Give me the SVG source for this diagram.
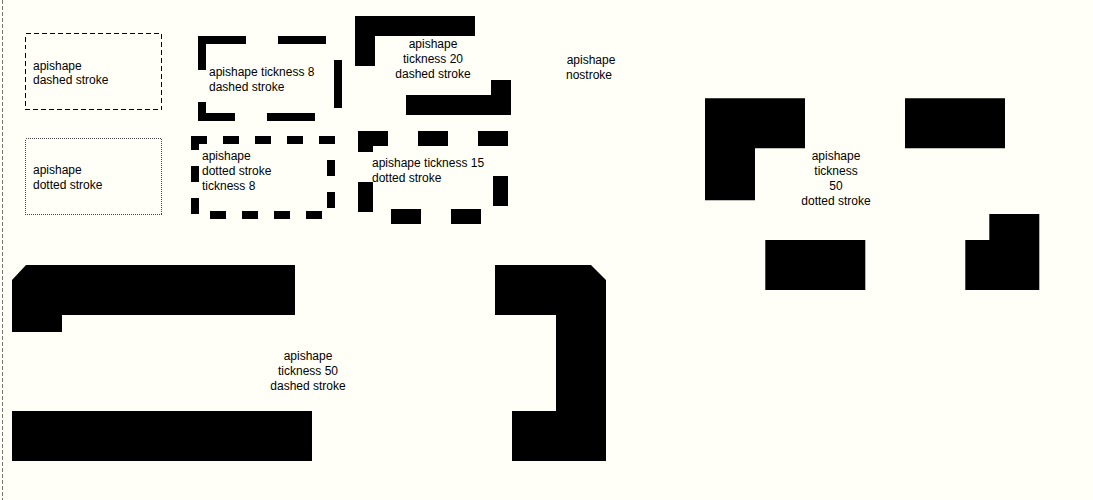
<svg xmlns="http://www.w3.org/2000/svg" width="1093" height="500" viewBox="0 0 1093 500">
<style>
  .t { font-family: "Liberation Sans", Arial, sans-serif; font-size: 12px; fill: #000; }
  .c { text-anchor: middle; }
  .thick { fill: none; stroke: #000; stroke-linecap: square; stroke-linejoin: miter; }
  .solid { fill: #000; stroke: none; }
</style>
<rect x="0" y="0" width="1093" height="500" fill="#fffff8"/>
<line x1="2.5" y1="0" x2="2.5" y2="500" stroke="#777" stroke-width="1" stroke-dasharray="4 2" shape-rendering="crispEdges"/>

<g id="dashed-stroke">
  <rect x="25.5" y="33.5" width="136" height="76" fill="none" stroke="#000" stroke-width="1" stroke-dasharray="5 3" shape-rendering="crispEdges"/>
  <text class="t" x="33" y="70">apishape</text>
  <text class="t" x="33" y="84">dashed stroke</text>
</g>

<g id="dotted-stroke">
  <rect x="25.5" y="138.5" width="136" height="76" fill="none" stroke="#444" stroke-width="1" stroke-dasharray="1 1" shape-rendering="crispEdges"/>
  <text class="t" x="33" y="174">apishape</text>
  <text class="t" x="33" y="189">dotted stroke</text>
</g>

<g id="dashed-thickness-8">
  <rect class="thick" x="202" y="40" width="136" height="77" stroke-width="8" stroke-dasharray="40 40"/>
  <text class="t" x="209" y="76">apishape tickness 8</text>
  <text class="t" x="209" y="91">dashed stroke</text>
</g>

<g id="dashed-thickness-20">
  <rect class="thick" x="365" y="26" width="136" height="79" stroke-width="20" stroke-dasharray="100 100"/>
  <text class="t c" x="433" y="48">apishape</text>
  <text class="t c" x="433" y="63">tickness 20</text>
  <text class="t c" x="433" y="78">dashed stroke</text>
</g>

<g id="dotted-thickness-8">
  <rect class="thick" x="195" y="140" width="136" height="75" stroke-width="8" stroke-dasharray="8 24"/>
  <text class="t" x="202" y="160">apishape</text>
  <text class="t" x="202" y="175">dotted stroke</text>
  <text class="t" x="202" y="190">tickness 8</text>
</g>

<g id="dotted-thickness-15">
  <rect class="thick" x="365.5" y="138.5" width="135" height="78" stroke-width="15" stroke-dasharray="15 45"/>
  <text class="t" x="372" y="167">apishape tickness 15</text>
  <text class="t" x="372" y="182">dotted stroke</text>
</g>

<g id="nostroke">
  <text class="t c" x="591" y="64">apishape</text>
  <text class="t c" x="589" y="79">nostroke</text>
</g>

<g id="dashed-thickness-50">
  <polygon class="solid" points="26,265 295,265 295,315 62,315 62,332 12,332 12,280"/>
  <rect class="solid" x="12" y="411" width="300" height="50"/>
  <polygon class="solid" points="495,265 591,265 606,280 606,461 512,461 512,411 556,411 556,315 495,315"/>
  <text class="t c" x="308" y="360">apishape</text>
  <text class="t c" x="308" y="375">tickness 50</text>
  <text class="t c" x="308" y="390">dashed stroke</text>
</g>

<g id="dotted-thickness-50">
  <rect class="thick" x="730" y="123.3" width="284.3" height="141.7" stroke-width="50" stroke-dasharray="50 150"/>
  <text class="t c" x="836" y="160">apishape</text>
  <text class="t c" x="836" y="175">tickness</text>
  <text class="t c" x="836" y="190">50</text>
  <text class="t c" x="836" y="205">dotted stroke</text>
</g>

<g id="connectors"/>
</svg>
